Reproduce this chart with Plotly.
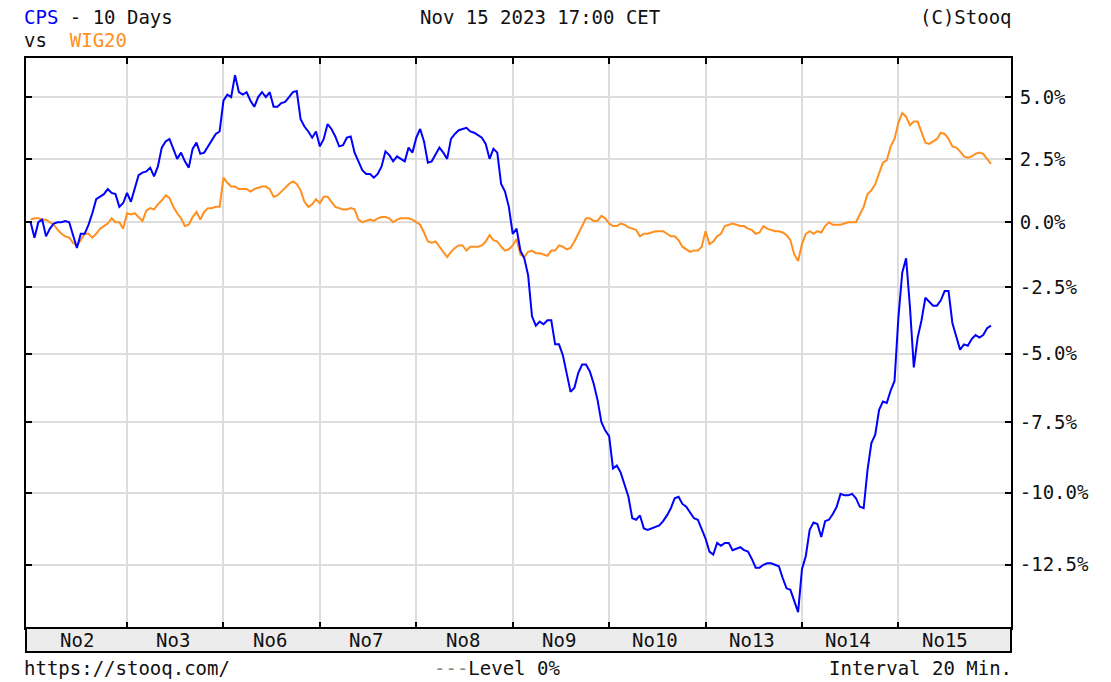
import numpy as np
import plotly.graph_objects as go

# ---------------- data ----------------
day_labels = ["No2", "No3", "No6", "No7", "No8", "No9", "No10", "No13", "No14", "No15"]
points_per_day = 25  # 20-minute bars, 9:00 .. 17:00

cps_pct = [
    0.0, -0.6, 0.0, 0.1, -0.55, -0.25, -0.05, 0.0, 0.0, 0.05, 0.0, -0.55, -1.0, -0.45, -0.45, -0.1, 0.35, 0.9, 1.0, 1.1, 1.3, 1.15, 1.1, 0.6, 0.75,
    1.15, 0.8, 1.35, 1.85, 1.95, 2.0, 2.15, 1.8, 2.2, 2.95, 3.2, 3.3, 2.9, 2.5, 2.75, 2.4, 2.15, 2.9, 3.15, 2.7, 2.75, 3.0, 3.2, 3.5, 3.6,
    4.85, 5.1, 5.0, 5.9, 5.2, 5.1, 5.2, 4.85, 4.6, 5.0, 5.2, 5.0, 5.2, 4.6, 4.6, 4.75, 4.8, 5.0, 5.2, 5.25, 4.1, 3.8, 3.6, 3.35, 3.6,
    3.0, 3.3, 3.9, 3.7, 3.4, 3.0, 3.05, 3.35, 3.4, 2.75, 2.4, 2.05, 1.9, 1.9, 1.75, 1.9, 2.2, 2.8, 2.65, 2.4, 2.6, 2.5, 2.4, 2.95, 2.75,
    3.35, 3.7, 3.2, 2.35, 2.4, 2.65, 2.95, 2.75, 2.5, 3.3, 3.5, 3.65, 3.7, 3.75, 3.6, 3.55, 3.45, 3.35, 3.1, 2.5, 2.9, 2.75, 1.5, 1.2, 0.6,
    -0.45, -0.25, -1.1, -1.4, -2.05, -3.6, -3.95, -3.8, -3.9, -3.75, -3.75, -4.65, -4.65, -5.05, -5.75, -6.4, -6.25, -5.7, -5.4, -5.4, -5.65, -6.1, -6.7, -7.5, -7.8,
    -8.0, -9.15, -9.05, -9.3, -9.75, -10.15, -10.9, -10.95, -10.8, -11.25, -11.3, -11.25, -11.2, -11.15, -11.0, -10.8, -10.55, -10.2, -10.15, -10.4, -10.5, -10.7, -10.9, -10.95, -11.3,
    -11.6, -12.05, -12.15, -11.75, -11.85, -11.75, -11.75, -12.0, -11.95, -11.9, -12.0, -12.05, -12.3, -12.6, -12.6, -12.5, -12.45, -12.45, -12.5, -12.55, -12.95, -13.3, -13.35, -13.7, -14.1,
    -12.65, -12.2, -11.3, -11.05, -11.1, -11.55, -11.0, -10.95, -10.75, -10.5, -10.05, -10.1, -10.1, -10.05, -10.2, -10.5, -10.55, -9.2, -8.25, -7.95, -7.05, -6.75, -6.8, -6.35, -6.0,
    -3.65, -1.95, -1.4, -3.25, -5.5, -4.4, -3.75, -2.9, -3.05, -3.2, -3.2, -3.0, -2.65, -2.65, -3.85, -4.4, -4.85, -4.65, -4.7, -4.45, -4.3, -4.4, -4.3, -4.05, -3.95,
]

wig20_pct = [
    0.1, 0.15, 0.15, 0.1, 0.1, 0.0, -0.1, -0.3, -0.45, -0.55, -0.6, -0.8, -0.9, -0.7, -0.45, -0.45, -0.6, -0.45, -0.25, -0.15, -0.05, 0.15, 0.0, 0.0, -0.25,
    0.35, 0.3, 0.35, 0.2, 0.05, 0.45, 0.55, 0.5, 0.7, 0.85, 1.05, 0.95, 0.6, 0.35, 0.15, -0.15, -0.1, 0.2, 0.4, 0.1, 0.4, 0.55, 0.55, 0.6, 0.6,
    1.75, 1.55, 1.4, 1.4, 1.3, 1.3, 1.3, 1.2, 1.3, 1.35, 1.4, 1.4, 1.3, 1.0, 1.05, 1.2, 1.35, 1.5, 1.6, 1.5, 1.25, 0.8, 0.6, 0.7, 0.9,
    0.75, 1.0, 1.0, 0.8, 0.6, 0.55, 0.5, 0.5, 0.55, 0.5, 0.1, 0.0, 0.05, 0.1, 0.05, 0.15, 0.2, 0.2, 0.15, 0.0, 0.1, 0.15, 0.15, 0.15, 0.1,
    0.0, -0.1, -0.4, -0.75, -0.8, -0.75, -0.95, -1.15, -1.35, -1.15, -1.0, -0.9, -0.9, -1.1, -0.95, -0.95, -0.95, -0.9, -0.75, -0.5, -0.7, -0.75, -0.95, -1.1, -1.05,
    -0.9, -0.65, -1.25, -1.35, -1.15, -1.1, -1.2, -1.2, -1.25, -1.3, -1.1, -1.1, -0.9, -0.95, -1.05, -1.0, -0.75, -0.45, -0.15, 0.15, 0.15, 0.05, 0.05, 0.25, 0.15,
    -0.05, -0.15, -0.15, -0.05, -0.1, -0.2, -0.25, -0.3, -0.55, -0.45, -0.45, -0.4, -0.35, -0.35, -0.35, -0.45, -0.55, -0.55, -0.7, -0.95, -1.05, -1.15, -1.1, -1.1, -0.95,
    -0.35, -0.85, -0.75, -0.55, -0.45, -0.15, -0.1, -0.05, -0.1, -0.15, -0.15, -0.25, -0.3, -0.45, -0.4, -0.15, -0.25, -0.3, -0.35, -0.35, -0.4, -0.5, -0.7, -1.25, -1.5,
    -0.85, -0.45, -0.35, -0.45, -0.35, -0.4, -0.15, 0.0, -0.1, -0.1, -0.1, -0.05, 0.0, 0.0, 0.0, 0.3, 0.6, 1.1, 1.25, 1.5, 1.9, 2.35, 2.45, 3.0, 3.3,
    3.95, 4.35, 4.2, 3.85, 4.0, 4.0, 3.6, 3.15, 3.1, 3.2, 3.3, 3.55, 3.5, 3.3, 3.0, 2.95, 2.8, 2.6, 2.55, 2.6, 2.7, 2.75, 2.7, 2.5, 2.3,
]

y_tick_pct = [-12.5, -10.0, -7.5, -5.0, -2.5, 0.0, 2.5, 5.0]
y_range_pct = [-14.63, 6.61]
x_range_idx = [-1.2, 254.2]

# ---------------- styling ----------------
BLUE = "#0000ff"
ORANGE = "#ff9020"
FONT = "DejaVu Sans Mono"
FS = 19
W, H = 1111, 682
ML, MR, MT, MB = 26, 100, 58, 54
PW, PH = W - ML - MR, H - MT - MB


def px_x(p):
    return (p - ML) / PW


def px_y(p):
    return (H - MB - p) / PH


x_idx = np.arange(len(cps_pct))
cps_level = 100 + np.array(cps_pct)
wig_level = 100 + np.array(wig20_pct)

fig = go.Figure()
fig.add_trace(go.Scatter(x=x_idx, y=wig_level, mode="lines",
                         line=dict(color=ORANGE, width=2), name="WIG20",
                         hoverinfo="skip"))
fig.add_trace(go.Scatter(x=x_idx, y=cps_level, mode="lines",
                         line=dict(color=BLUE, width=2), name="CPS",
                         hoverinfo="skip"))

n_days = len(day_labels)
boundaries = [d * points_per_day for d in range(1, n_days)]
centers = [d * points_per_day + (points_per_day - 1) / 2 for d in range(n_days)]

fig.update_layout(
    width=W, height=H,
    margin=dict(l=ML, r=MR, t=MT, b=MB, pad=0),
    paper_bgcolor="white", plot_bgcolor="white",
    showlegend=False,
    font=dict(family=FONT, size=FS, color="#111"),
    xaxis=dict(
        range=x_range_idx, tickmode="array", tickvals=boundaries,
        showticklabels=False, showgrid=True, gridcolor="#dddddd", gridwidth=2,
        ticks="inside", ticklen=6, tickwidth=2, tickcolor="#000",
        showline=True, linecolor="#000", linewidth=2, mirror="ticks",
        zeroline=False, fixedrange=True,
    ),
    yaxis=dict(
        type="log", side="right",
        range=list(np.log10(100 + np.array(y_range_pct))),
        tickmode="array", tickvals=[100 + v for v in y_tick_pct],
        ticktext=[f"{v:.1f}%" for v in y_tick_pct],
        showgrid=True, gridcolor="#dddddd", gridwidth=2,
        ticks="inside", ticklen=6, tickwidth=2, tickcolor="#000",
        ticklabelstandoff=3,
        showline=True, linecolor="#000", linewidth=2, mirror="ticks",
        zeroline=False, fixedrange=True,
        tickfont=dict(family=FONT, size=FS, color="#111"),
    ),
)

# zero level: cover the grid line, then draw a dashed gray line
zero_log = float(np.log10(100))
fig.add_shape(type="line", xref="paper", x0=0, x1=1, yref="y", y0=zero_log, y1=zero_log,
              line=dict(color="white", width=3), layer="between")
fig.add_shape(type="line", xref="paper", x0=0, x1=1, yref="y", y0=zero_log, y1=zero_log,
              line=dict(color="#999999", width=2, dash="5px,4px"), layer="between")

# bottom date band
fig.add_shape(type="rect", xref="paper", yref="paper", x0=0, x1=1,
              y0=px_y(652), y1=0, fillcolor="#ececec",
              line=dict(color="#000", width=2), layer="above")

annotations = []
for c, lab in zip(centers, day_labels):
    annotations.append(dict(x=c, xref="x", y=px_y(640), yref="paper", text=lab,
                            showarrow=False, xanchor="center", yanchor="middle",
                            font=dict(family=FONT, size=FS, color="#111")))


def txt(xp, yp, text, anchor):
    return dict(x=px_x(xp), xref="paper", y=px_y(yp), yref="paper", text=text,
                showarrow=False, xanchor=anchor, yanchor="middle",
                font=dict(family=FONT, size=FS, color="#111"))


annotations += [
    txt(22, 17, f"<span style='color:{BLUE}'>CPS</span> - 10 Days", "left"),
    txt(22, 40, f"vs\u00a0\u00a0<span style='color:{ORANGE}'>WIG20</span>", "left"),
    txt(540, 17, "Nov 15 2023 17:00 CET", "center"),
    txt(1014, 17, "(C)Stooq", "right"),
    txt(22, 668, "https://stooq.com/", "left"),
    txt(497, 668, "<span style='color:#888888'>---</span>Level 0%", "center"),
    txt(1014, 668, "Interval 20 Min.", "right"),
]
fig.update_layout(annotations=annotations)

fig.write_html(
    "out.html",
    config={"displayModeBar": False, "staticPlot": True},
    post_script="document.body.style.margin='0px';document.body.style.padding='0px';",
)
